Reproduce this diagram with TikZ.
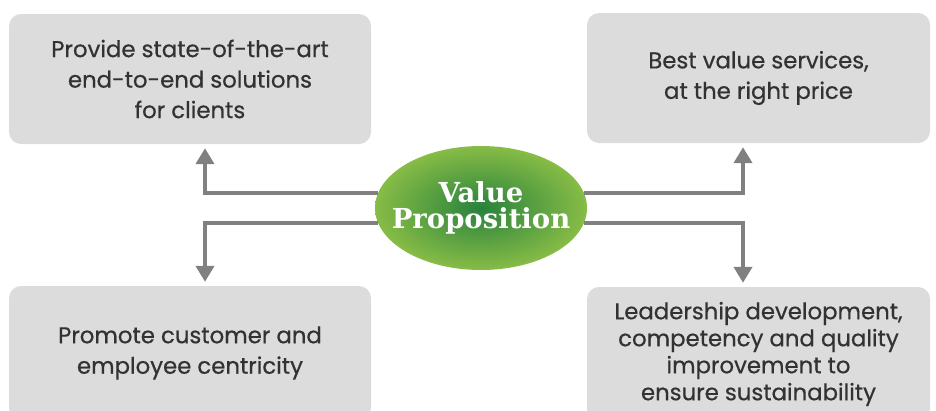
\documentclass[tikz,border=0pt]{standalone}
\usepackage{fontspec}
\setmainfont{Poppins}
\newfontfamily\goalfont{Poppins}[FakeBold=0.6]
\newfontfamily\vpfont{DejaVu Serif}
\usetikzlibrary{positioning,shapes.geometric,arrows.meta}
\definecolor{boxgray}{RGB}{220,220,220}
\definecolor{textgray}{RGB}{50,50,50}
\definecolor{linegray}{RGB}{128,128,128}
\definecolor{vpdark}{RGB}{40,130,60}
\definecolor{vplight}{RGB}{135,188,70}

\begin{document}
\begin{tikzpicture}[x=1pt,y=-1pt]
\tikzstyle{every node}+=[inner sep=0pt]
\tikzstyle{goal}=[fill=boxgray, rounded corners=12pt, align=center, text=textgray, font=\goalfont\fontsize{22.8}{30.5}\selectfont]
\tikzstyle{link}=[draw=linegray, line width=4pt, -{Triangle[width=18pt,length=16pt]}, shorten >=4pt]
\useasboundingbox (0,0) rectangle (936,410);
% the four goals
\node[goal, minimum width=362pt, minimum height=130pt] (provide) at (190,79) {Provide state-of-the-art\\end-to-end solutions\\for clients};
\node[goal, minimum width=343pt, minimum height=130pt] (best) at (758.5,78) {Best value services,\\at the right price};
\node[goal, minimum width=362pt, minimum height=134pt] (promote) at (190,353) {Promote customer and\\employee centricity};
\node[goal, minimum width=343pt, minimum height=134pt, font=\goalfont\fontsize{22.8}{27}\selectfont] (lead) at (758.5,354) {Leadership development,\\competency and quality\\improvement to\\ensure sustainability};
% centre
\node[ellipse, inner sep=-16pt, minimum width=212pt, minimum height=124pt, shading=radial, inner color=vpdark, outer color=vplight, align=center, text=white, font=\vpfont\bfseries\fontsize{27.5}{26}\selectfont] (vp) at (481,208) {Value\\Proposition};
\draw[link] (vp.172) -| ([xshift=15pt]provide.south);
\draw[link] (vp.8) -| ([xshift=-15.5pt]best.south);
\draw[link] (vp.188) -| ([xshift=15pt]promote.north);
\draw[link] (vp.352) -| ([xshift=-15.5pt]lead.north);
\end{tikzpicture}
\end{document}
